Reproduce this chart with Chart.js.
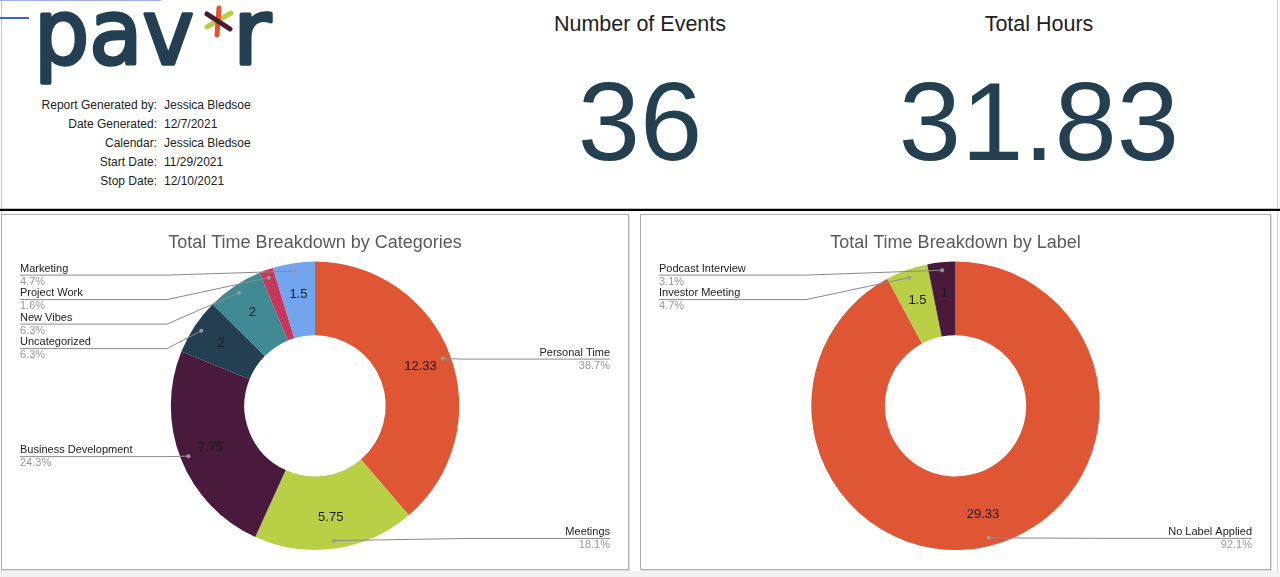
<!DOCTYPE html>
<html><head><meta charset="utf-8">
<script src="https://cdn.jsdelivr.net/npm/chart.js@4.4.1/dist/chart.umd.min.js"></script>
<style>
html,body{margin:0;padding:0;background:#fff;width:1280px;height:577px;overflow:hidden;font-family:"Liberation Sans",Arial,sans-serif;}
.abs{position:absolute;}
.panel{position:absolute;box-sizing:border-box;border:1px solid #adadad;box-shadow:1px 1px 0 #dedede;background:#fff;}
.panel canvas{display:block;}
</style></head><body>
<div class="abs" style="left:0;top:571px;width:1280px;height:6px;background:#f1f1f1"></div>
<div class="abs" style="left:1px;top:0;width:1px;height:571px;background:#c8c8c8"></div>
<div class="abs" style="left:1277px;top:0;width:1px;height:571px;background:#d0d0d0"></div>
<div class="abs" style="left:0;top:0;width:161px;height:1px;background:#9fb0ee"></div>
<div class="abs" style="left:0;top:17px;width:29px;height:2px;background:#3a62e0"></div>
<div class="abs" style="left:0;top:209px;width:1280px;height:2px;background:#000"></div>
<div class="abs" style="left:0;top:208px;width:1280px;height:1px;background:#bdbdbd"></div>

<svg class="abs" style="left:0;top:0" width="1280" height="205" xmlns="http://www.w3.org/2000/svg">
  <g font-family="DejaVu Sans, sans-serif" font-weight="normal" font-size="90" fill="#233f51" stroke="#233f51" stroke-width="3.5" stroke-linejoin="round">
    <text id="logoA" x="34" y="64" textLength="160" lengthAdjust="spacingAndGlyphs">pav</text>
    <text id="logoR" x="233" y="64" textLength="38" lengthAdjust="spacingAndGlyphs">r</text>
  </g>
  <g stroke-linecap="round" stroke-width="5">
    <line x1="207" y1="27" x2="231" y2="13" stroke="#b8cf45"/>
    <line x1="219" y1="8" x2="217" y2="35" stroke="#e0562f"/>
    <line x1="207" y1="14" x2="230" y2="29" stroke="#4a1a30"/>
  </g>
  <g id="info" font-family="Liberation Sans, Arial, sans-serif" font-size="12" fill="#222"></g>
  <g font-family="Liberation Sans, Arial, sans-serif" fill="#222" font-size="21.5" text-anchor="middle">
    <text id="t1" x="640" y="31"></text>
    <text id="t2" x="1039" y="31"></text>
  </g>
  <g font-family="Liberation Sans, Arial, sans-serif" fill="#243f4f" font-size="112" text-anchor="middle">
    <text id="n1" x="640" y="160"></text>
    <text id="n2" x="1039" y="160"></text>
  </g>
</svg>

<div class="panel" style="left:1px;top:214px;width:628px;height:356px"><canvas id="c1" width="626" height="354"></canvas></div>
<div class="panel" style="left:640px;top:214px;width:631px;height:356px"><canvas id="c2" width="629" height="354"></canvas></div>

<script>
// ---- data ----
const infoKeys = ['Report Generated by:', 'Date Generated:', 'Calendar:', 'Start Date:', 'Stop Date:'];
const infoValues = ['Jessica Bledsoe', '12/7/2021', 'Jessica Bledsoe', '11/29/2021', '12/10/2021'];
const statTitles = ['Number of Events', 'Total Hours'];
const statValues = ['36', '31.83'];

const categoryNames = ['Personal Time', 'Meetings', 'Business Development', 'Uncategorized', 'New Vibes', 'Project Work', 'Marketing'];
const categoryHours = [12.33, 5.75, 7.75, 2, 2, 0.5, 1.5];
const categoryColors = ['#df5635', '#b9cf46', '#4a1a3d', '#243f51', '#3f8a93', '#c6375c', '#73a5ef'];

const labelNames = ['No Label Applied', 'Investor Meeting', 'Podcast Interview'];
const labelHours = [29.33, 1.5, 1];
const labelColors = ['#df5635', '#b9cf46', '#4a1a3d'];

const chartTitles = ['Total Time Breakdown by Categories', 'Total Time Breakdown by Label'];

// ---- header ----
const NS = 'http://www.w3.org/2000/svg';
const info = document.getElementById('info');
infoKeys.forEach((k, i) => {
  const y = 109 + i * 19;
  const a = document.createElementNS(NS, 'text');
  a.setAttribute('x', 157); a.setAttribute('y', y); a.setAttribute('text-anchor', 'end'); a.textContent = k;
  const b = document.createElementNS(NS, 'text');
  b.setAttribute('x', 164); b.setAttribute('y', y); b.textContent = infoValues[i];
  info.appendChild(a); info.appendChild(b);
});
document.getElementById('t1').textContent = statTitles[0];
document.getElementById('t2').textContent = statTitles[1];
document.getElementById('n1').textContent = statValues[0];
document.getElementById('n2').textContent = statValues[1];

// ---- callout plugin ----
const FONT = '"Liberation Sans", Arial, sans-serif';
const callouts = {
  id: 'callouts',
  afterDatasetsDraw(chart) {
    const ctx = chart.ctx;
    const meta = chart.getDatasetMeta(0);
    const data = chart.data.datasets[0].data;
    const names = chart.data.labels;
    const total = data.reduce((a, b) => a + b, 0);
    const area = chart.chartArea;
    const W = chart.width;
    const items = [];
    ctx.save();
    meta.data.forEach((arc, i) => {
      const p = arc.getProps(['x', 'y', 'startAngle', 'endAngle', 'innerRadius', 'outerRadius'], true);
      const mid = (p.startAngle + p.endAngle) / 2;
      const span = p.endAngle - p.startAngle;
      if (span > 0.15) {
        const r = (p.innerRadius + p.outerRadius) / 2 + 5;
        ctx.fillStyle = '#1a1a1a';
        ctx.font = '13px ' + FONT;
        ctx.textAlign = 'center';
        ctx.textBaseline = 'middle';
        ctx.fillText(String(data[i]), p.x + Math.cos(mid) * r, p.y + Math.sin(mid) * r);
      }
      const dr = p.outerRadius - 8;
      items.push({
        i, dx: p.x + Math.cos(mid) * dr, dy: p.y + Math.sin(mid) * dr,
        left: Math.cos(mid) < 0,
        name: names[i], pct: (data[i] / total * 100).toFixed(1) + '%'
      });
    });
    const minY = area.top + 13, maxY = area.bottom - 12, gap = 24.5;
    [true, false].forEach(side => {
      const list = items.filter(it => it.left === side).sort((a, b) => a.dy - b.dy);
      let prev = -Infinity;
      list.forEach(it => { it.ly = Math.max(it.dy, minY, prev + gap); prev = it.ly; });
      let next = Infinity;
      for (let k = list.length - 1; k >= 0; k--) {
        list[k].ly = Math.min(list[k].ly, maxY, next - gap); next = list[k].ly;
      }
    });
    items.forEach(it => {
      const tx = it.left ? 18 : W - 18;
      const bend = it.left ? tx + 147 : tx - 147;
      ctx.strokeStyle = '#8a8a8a';
      ctx.lineWidth = 1;
      ctx.beginPath();
      ctx.moveTo(tx, it.ly + 0.5);
      ctx.lineTo(bend, it.ly + 0.5);
      ctx.lineTo(it.dx, it.dy);
      ctx.stroke();
      ctx.fillStyle = '#9a9a9a';
      ctx.beginPath();
      ctx.arc(it.dx, it.dy, 2, 0, Math.PI * 2);
      ctx.fill();
      ctx.font = '11px ' + FONT;
      ctx.textAlign = it.left ? 'left' : 'right';
      ctx.textBaseline = 'alphabetic';
      ctx.fillStyle = '#222';
      ctx.fillText(it.name, tx, it.ly - 3);
      ctx.fillStyle = '#9a9a9a';
      ctx.fillText(it.pct, tx, it.ly + 10);
    });
    ctx.restore();
  }
};

function makeDonut(id, title, names, values, colors) {
  return new Chart(document.getElementById(id), {
    type: 'doughnut',
    data: { labels: names, datasets: [{ data: values, backgroundColor: colors, borderWidth: 0 }] },
    options: {
      responsive: false,
      animation: false,
      cutout: '49%',
      layout: { padding: { top: 0, bottom: 19, left: 0, right: 0 } },
      plugins: {
        legend: { display: false },
        tooltip: { enabled: false },
        title: {
          display: true, text: title, color: '#5a5a5a',
          font: { family: FONT, size: 18, weight: 'normal', lineHeight: 1.2 },
          padding: { top: 17, bottom: 8 }
        }
      }
    },
    plugins: [callouts]
  });
}
makeDonut('c1', chartTitles[0], categoryNames, categoryHours, categoryColors);
makeDonut('c2', chartTitles[1], labelNames, labelHours, labelColors);
</script>
</body></html>
